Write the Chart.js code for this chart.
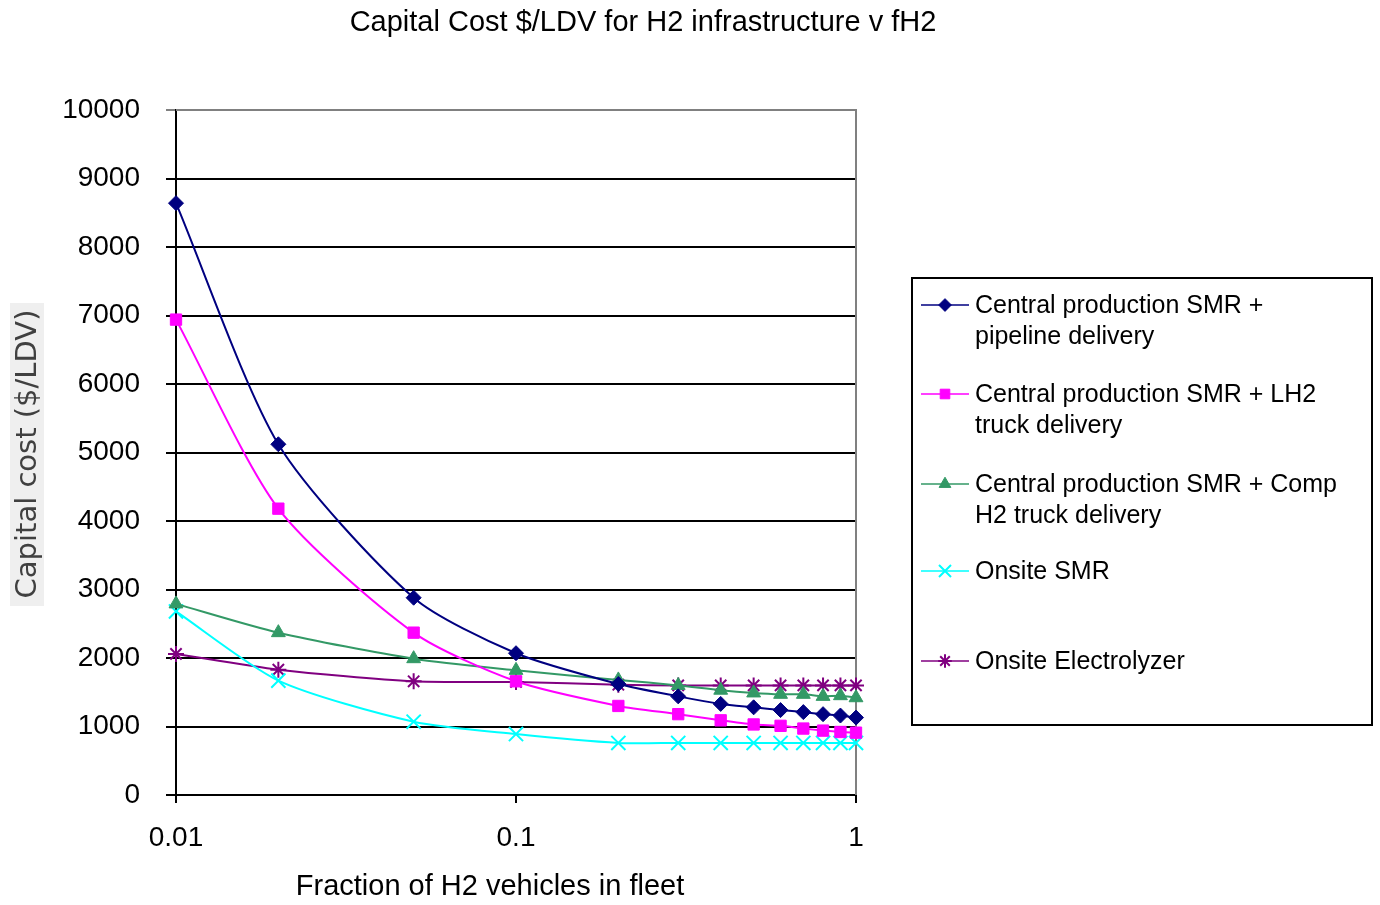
<!DOCTYPE html>
<html>
<head>
<meta charset="utf-8">
<script src="https://cdn.jsdelivr.net/npm/chart.js@4"></script>
<style>
  body { margin: 0; background: #fff; }
  canvas { display: block; }
</style>
</head>
<body>
<canvas id="capitalCostChart" width="1380" height="905"></canvas>
<script>
// fraction of H2 vehicles in fleet (log axis)
const fractions = [0.01, 0.02, 0.05, 0.1, 0.2, 0.3, 0.4, 0.5, 0.6, 0.7, 0.8, 0.9, 1];

// capital cost $/LDV per pathway
const pipelineDelivery = [8640, 5120, 2880, 2070, 1620, 1440, 1330, 1280, 1240, 1210, 1180, 1160, 1130];
const lh2TruckDelivery = [6940, 4180, 2370, 1660, 1300, 1180, 1090, 1030, 1010, 970, 940, 920, 910];
const compH2TruckDelivery = [2790, 2370, 1990, 1820, 1680, 1600, 1530, 1490, 1470, 1470, 1440, 1450, 1420];
const onsiteSMR = [2680, 1670, 1070, 890, 760, 760, 760, 760, 760, 760, 760, 760, 760];
const onsiteElectrolyzer = [2060, 1830, 1660, 1650, 1610, 1600, 1600, 1600, 1600, 1600, 1600, 1600, 1600];

// legend text, split the way the original wraps it
const seriesNames = [
  ['Central production SMR +', 'pipeline delivery'],
  ['Central production SMR + LH2', 'truck delivery'],
  ['Central production SMR + Comp', 'H2 truck delivery'],
  ['Onsite SMR'],
  ['Onsite Electrolyzer']
];

const xTicks = [0.01, 0.1, 1];
const yTicks = [0, 1000, 2000, 3000, 4000, 5000, 6000, 7000, 8000, 9000, 10000];

const chartTitle = 'Capital Cost $/LDV for H2 infrastructure v fH2';
const xTitle = 'Fraction of H2 vehicles in fleet';
const yTitle = 'Capital cost ($/LDV)';

const FONT = '"Liberation Sans", Arial, sans-serif';

function series(values) {
  return fractions.map((f, i) => ({ x: f, y: values[i] }));
}

const datasets = [
  { values: pipelineDelivery, color: '#000080', style: 'rectRot', radius: 7.5 },
  { values: lh2TruckDelivery, color: '#ff00ff', style: 'rect', radius: 8 },
  { values: compH2TruckDelivery, color: '#339966', style: 'triangle', radius: 8 },
  { values: onsiteSMR, color: '#00ffff', style: 'crossRot', radius: 10 },
  { values: onsiteElectrolyzer, color: '#800080', style: 'star', radius: 8 }
].map((d, i) => ({
  label: seriesNames[i].join(' '),
  data: series(d.values),
  borderColor: d.color,
  backgroundColor: d.color,
  borderWidth: 2,
  pointStyle: d.style,
  pointRadius: d.radius,
  pointHoverRadius: d.radius,
  pointBorderWidth: (d.style === 'crossRot' || d.style === 'star') ? 2 : 1,
  tension: 0.25,
  clip: false,
  fill: false
}));

// titles, plot border and the boxed legend
const decorations = {
  id: 'decorations',
  beforeDatasetsDraw(chart) {
    const ctx = chart.ctx;
    const area = chart.chartArea;
    ctx.save();
    // grey top/right frame of the plot area
    ctx.strokeStyle = '#808080';
    ctx.lineWidth = 2;
    ctx.beginPath();
    ctx.moveTo(area.left, area.top);
    ctx.lineTo(area.right, area.top);
    ctx.lineTo(area.right, area.bottom);
    ctx.stroke();
    ctx.restore();
  },
  afterDraw(chart) {
    const ctx = chart.ctx;
    ctx.save();
    ctx.fillStyle = '#000';
    ctx.textAlign = 'center';
    ctx.textBaseline = 'middle';
    ctx.font = '29px ' + FONT;
    ctx.fillText(chartTitle, 643, 23);
    ctx.fillText(xTitle, 490, 887);

    // y title on a light grey patch
    ctx.fillStyle = '#efefef';
    ctx.fillRect(10, 303, 34, 303);
    ctx.translate(27, 454);
    ctx.rotate(-Math.PI / 2);
    ctx.fillStyle = '#404040';
    ctx.font = '29px "DejaVu Sans", sans-serif';
    ctx.fillText(yTitle, 0, 1);
    ctx.restore();

    // legend
    ctx.save();
    ctx.strokeStyle = '#000';
    ctx.lineWidth = 2;
    ctx.strokeRect(912, 278, 460, 447);
    const rowY = [305, 394, 484, 571, 661];
    ctx.font = '25px ' + FONT;
    ctx.textAlign = 'left';
    ctx.textBaseline = 'middle';
    chart.data.datasets.forEach((ds, i) => {
      const y = rowY[i];
      ctx.strokeStyle = ds.borderColor;
      ctx.lineWidth = 1.5;
      ctx.beginPath();
      ctx.moveTo(921, y);
      ctx.lineTo(969, y);
      ctx.stroke();
      ctx.fillStyle = ds.backgroundColor;
      ctx.lineWidth = ds.pointBorderWidth;
      Chart.helpers.drawPoint(ctx, {
        pointStyle: ds.pointStyle,
        radius: ds.pointRadius * 0.85,
        rotation: 0,
        borderWidth: ds.pointBorderWidth
      }, 945, y);
      ctx.fillStyle = '#000';
      seriesNames[i].forEach((line, j) => {
        ctx.fillText(line, 975, y + 1 + j * 31);
      });
    });
    ctx.restore();
  }
};

const ctx = document.getElementById('capitalCostChart').getContext('2d');
new Chart(ctx, {
  type: 'line',
  data: { datasets },
  options: {
    responsive: false,
    animation: false,
    layout: { padding: { top: 110, right: 524, left: 0, bottom: 0 } },
    plugins: {
      legend: { display: false },
      title: { display: false },
      tooltip: { enabled: false }
    },
    scales: {
      x: {
        type: 'logarithmic',
        min: 0.01,
        max: 1,
        afterFit: scale => { scale.height = 110; },
        afterBuildTicks: scale => { scale.ticks = xTicks.map(v => ({ value: v })); },
        border: { display: true, color: '#000', width: 2 },
        grid: { drawOnChartArea: false, drawTicks: true, tickLength: 8, color: '#000', lineWidth: 2 },
        ticks: {
          color: '#000',
          padding: 18,
          maxRotation: 0,
          font: { family: FONT, size: 28 },
          callback: v => String(v)
        }
      },
      y: {
        min: 0,
        max: 10000,
        afterFit: scale => { scale.width = 176; },
        afterBuildTicks: scale => { scale.ticks = yTicks.map(v => ({ value: v })); },
        border: { display: true, color: '#000', width: 2 },
        grid: {
          color: c => (c.tick && c.tick.value === 10000) ? '#808080' : '#000',
          lineWidth: 2,
          drawTicks: true,
          tickLength: 10
        },
        ticks: {
          color: '#000',
          padding: 26,
          font: { family: FONT, size: 28 },
          callback: v => String(v)
        }
      }
    }
  },
  plugins: [decorations]
});
</script>
</body>
</html>
